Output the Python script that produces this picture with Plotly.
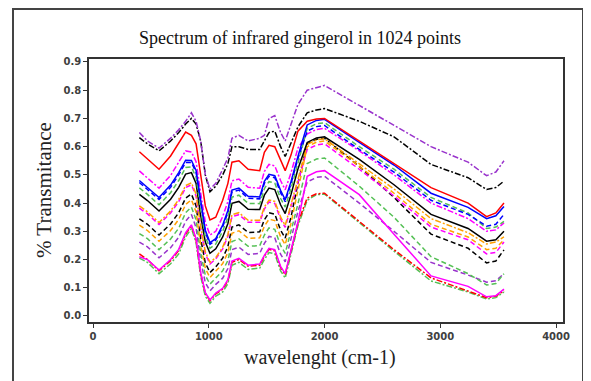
import plotly.graph_objects as go

# wavelength grid (cm-1) at which values were read
wavelength = [400, 470, 570, 670, 740, 800, 850, 890, 930, 970, 1010, 1060, 1120, 1165,
              1200, 1260, 1340, 1440, 1480, 1520, 1570, 1620, 1660, 1710, 1770, 1850,
              1930, 2000, 2300, 2600, 2920, 3240, 3400, 3480, 3550]

purple_dashdot = [0.65, 0.62, 0.595, 0.63, 0.66, 0.69, 0.72, 0.69, 0.62, 0.50, 0.45, 0.47, 0.52, 0.56,
                  0.63, 0.64, 0.62, 0.63, 0.64, 0.70, 0.71, 0.65, 0.62, 0.68, 0.75, 0.80,
                  0.81, 0.817, 0.746, 0.676, 0.60, 0.545, 0.497, 0.51, 0.55]
black_dashdot = [0.632, 0.61, 0.585, 0.62, 0.65, 0.68, 0.70, 0.68, 0.62, 0.50, 0.44, 0.46, 0.50, 0.54,
                 0.60, 0.60, 0.59, 0.59, 0.62, 0.65, 0.655, 0.60, 0.565, 0.61, 0.67, 0.72,
                 0.73, 0.735, 0.69, 0.635, 0.537, 0.49, 0.448, 0.455, 0.478]
red_solid = [0.582, 0.555, 0.52, 0.567, 0.614, 0.652, 0.64, 0.61, 0.50, 0.39, 0.34, 0.35, 0.41, 0.47,
             0.545, 0.55, 0.52, 0.515, 0.58, 0.605, 0.60, 0.55, 0.515, 0.57, 0.655, 0.69,
             0.698, 0.70, 0.62, 0.54, 0.455, 0.40, 0.352, 0.365, 0.40]
blue_solid = [0.48, 0.456, 0.42, 0.464, 0.508, 0.552, 0.551, 0.516, 0.403, 0.304, 0.26, 0.274, 0.322, 0.374,
              0.446, 0.453, 0.424, 0.422, 0.477, 0.502, 0.497, 0.445, 0.412, 0.476, 0.565, 0.677,
              0.693, 0.697, 0.615, 0.535, 0.435, 0.385, 0.345, 0.355, 0.388]
green_dash = [0.454, 0.431, 0.394, 0.437, 0.48, 0.526, 0.528, 0.491, 0.378, 0.281, 0.24, 0.255, 0.30, 0.349,
              0.421, 0.428, 0.399, 0.398, 0.451, 0.476, 0.471, 0.417, 0.386, 0.451, 0.541, 0.665,
              0.681, 0.685, 0.60, 0.52, 0.42, 0.365, 0.31, 0.315, 0.335]
blue_dash = [0.473, 0.449, 0.413, 0.456, 0.50, 0.544, 0.544, 0.509, 0.396, 0.297, 0.254, 0.269, 0.316, 0.367,
             0.439, 0.446, 0.417, 0.415, 0.47, 0.495, 0.49, 0.437, 0.405, 0.469, 0.558, 0.655,
             0.671, 0.675, 0.59, 0.51, 0.41, 0.36, 0.318, 0.325, 0.36]
magenta_dashdot = [0.514, 0.489, 0.453, 0.498, 0.543, 0.585, 0.581, 0.547, 0.435, 0.332, 0.287, 0.30, 0.352, 0.406,
                   0.479, 0.485, 0.456, 0.453, 0.512, 0.537, 0.532, 0.48, 0.447, 0.507, 0.595, 0.645,
                   0.661, 0.665, 0.585, 0.50, 0.40, 0.345, 0.30, 0.305, 0.33]
black_solid = [0.431, 0.409, 0.372, 0.414, 0.456, 0.503, 0.508, 0.47, 0.356, 0.262, 0.222, 0.238, 0.28, 0.328,
               0.399, 0.406, 0.378, 0.377, 0.428, 0.453, 0.448, 0.394, 0.363, 0.43, 0.521, 0.615,
               0.631, 0.635, 0.555, 0.465, 0.36, 0.31, 0.265, 0.27, 0.30]
orange_dashdot = [0.39, 0.369, 0.331, 0.372, 0.413, 0.462, 0.472, 0.432, 0.316, 0.227, 0.19, 0.207, 0.244, 0.289,
                  0.359, 0.366, 0.339, 0.339, 0.386, 0.411, 0.406, 0.351, 0.321, 0.392, 0.484, 0.608,
                  0.624, 0.628, 0.54, 0.45, 0.345, 0.295, 0.255, 0.262, 0.28]
orange_dash = [0.322, 0.303, 0.265, 0.303, 0.342, 0.395, 0.412, 0.369, 0.252, 0.169, 0.136, 0.157, 0.186, 0.225,
               0.293, 0.302, 0.275, 0.277, 0.318, 0.343, 0.338, 0.281, 0.253, 0.329, 0.45, 0.60,
               0.616, 0.62, 0.53, 0.435, 0.325, 0.28, 0.235, 0.24, 0.27]
magenta_dash = [0.382, 0.362, 0.324, 0.365, 0.405, 0.455, 0.465, 0.425, 0.309, 0.22, 0.184, 0.202, 0.238, 0.282,
                0.352, 0.359, 0.332, 0.332, 0.379, 0.404, 0.399, 0.343, 0.314, 0.385, 0.477, 0.59,
                0.606, 0.61, 0.52, 0.425, 0.315, 0.27, 0.22, 0.225, 0.262]
black_dash = [0.344, 0.325, 0.287, 0.326, 0.366, 0.418, 0.432, 0.39, 0.273, 0.188, 0.154, 0.174, 0.205, 0.246,
              0.315, 0.323, 0.296, 0.298, 0.341, 0.366, 0.361, 0.304, 0.276, 0.35, 0.47, 0.61,
              0.626, 0.63, 0.53, 0.42, 0.29, 0.24, 0.188, 0.195, 0.234]
green_dash_low = [0.292, 0.274, 0.235, 0.273, 0.311, 0.366, 0.386, 0.341, 0.223, 0.144, 0.113, 0.134, 0.16, 0.197,
                  0.264, 0.273, 0.247, 0.249, 0.287, 0.312, 0.307, 0.25, 0.222, 0.301, 0.397, 0.54,
                  0.556, 0.56, 0.46, 0.35, 0.21, 0.15, 0.11, 0.115, 0.15]
magenta_solid = [0.21, 0.20, 0.163, 0.20, 0.236, 0.295, 0.323, 0.274, 0.154, 0.083, 0.057, 0.081, 0.098, 0.129,
                 0.195, 0.204, 0.18, 0.184, 0.215, 0.24, 0.235, 0.176, 0.15, 0.234, 0.333, 0.495,
                 0.511, 0.515, 0.43, 0.29, 0.142, 0.105, 0.068, 0.072, 0.095]
purple_dash = [0.262, 0.245, 0.206, 0.242, 0.279, 0.336, 0.36, 0.313, 0.194, 0.118, 0.089, 0.112, 0.134, 0.168,
               0.235, 0.244, 0.218, 0.222, 0.257, 0.282, 0.277, 0.219, 0.192, 0.273, 0.37, 0.475,
               0.491, 0.495, 0.40, 0.30, 0.19, 0.145, 0.12, 0.125, 0.15]
red_dashdot = [0.22, 0.20, 0.16, 0.196, 0.232, 0.29, 0.32, 0.27, 0.15, 0.08, 0.054, 0.078, 0.095, 0.125,
               0.19, 0.20, 0.176, 0.18, 0.212, 0.236, 0.231, 0.172, 0.146, 0.23, 0.33, 0.418,
               0.433, 0.435, 0.335, 0.235, 0.135, 0.09, 0.065, 0.07, 0.09]
green_dashdot = [0.205, 0.19, 0.15, 0.185, 0.22, 0.28, 0.31, 0.26, 0.14, 0.07, 0.045, 0.07, 0.085, 0.115,
                 0.18, 0.19, 0.165, 0.17, 0.20, 0.225, 0.22, 0.16, 0.135, 0.22, 0.32, 0.41,
                 0.43, 0.432, 0.33, 0.23, 0.124, 0.085, 0.06, 0.065, 0.085]

x_ticks = [0, 1000, 2000, 3000, 4000]
y_ticks = [0.0, 0.1, 0.2, 0.3, 0.4, 0.5, 0.6, 0.7, 0.8, 0.9]
y_tick_text = ["0.0", "0.1", "0.2", "0.3", "0.4", "0.5", "0.6", "0.7", "0.8", "0.9"]

PURPLE = "#9933CC"
GREEN = "#55C055"
ORANGE = "#FFA000"
DASH = "5px,3px"
DASHDOT = "6px,2px,2px,2px"

series = [
    (green_dashdot, GREEN, DASHDOT),
    (red_dashdot, "#FF0000", DASHDOT),
    (purple_dash, PURPLE, DASH),
    (magenta_solid, "#FF00FF", "solid"),
    (green_dash_low, GREEN, DASH),
    (black_dash, "#000000", DASH),
    (magenta_dash, "#FF00FF", DASH),
    (orange_dash, ORANGE, DASH),
    (orange_dashdot, ORANGE, DASHDOT),
    (black_solid, "#000000", "solid"),
    (magenta_dashdot, "#FF00FF", DASHDOT),
    (green_dash, GREEN, DASH),
    (blue_dash, "#0000FF", DASH),
    (blue_solid, "#0000FF", "solid"),
    (red_solid, "#FF0000", "solid"),
    (black_dashdot, "#000000", DASHDOT),
    (purple_dashdot, PURPLE, DASHDOT),
]

fig = go.Figure()
for vals, col, dash in series:
    fig.add_trace(go.Scatter(x=wavelength, y=vals, mode="lines",
                             line=dict(color=col, width=1.5, dash=dash),
                             showlegend=False, hoverinfo="skip"))

# the page body adds an 8px offset; figure coordinates are page coordinates minus 8
OFF = 8
W, H = 591 - OFF, 381 - OFF
L, R, T, B = 89 - OFF, 28, 59 - OFF, 59
pw, ph = W - L - R, H - T - B

def px(x):
    return (x - OFF - L) / pw

def py(y):
    return (H - B - (y - OFF)) / ph

tick_font = dict(family="DejaVu Sans", size=10, color="#404040", weight="bold")

fig.update_layout(
    width=W, height=H,
    margin=dict(l=L, r=R, t=T, b=B, pad=0),
    paper_bgcolor="white", plot_bgcolor="white",
    showlegend=False,
    xaxis=dict(range=[-35, 4060], tickvals=x_ticks, ticks="outside", ticklen=4,
               tickcolor="#333333", showline=True, linecolor="#333333", linewidth=1.5,
               mirror=True, showgrid=False, zeroline=False, tickfont=tick_font),
    yaxis=dict(range=[-0.0213, 0.9106], tickvals=y_ticks, ticktext=y_tick_text,
               ticks="outside", ticklen=4, tickcolor="#333333", showline=True,
               linecolor="#333333", linewidth=1.5, mirror=True, showgrid=False,
               zeroline=False, tickfont=tick_font),
    shapes=[dict(type="rect", xref="paper", yref="paper",
                 x0=px(13), x1=px(583), y0=py(395), y1=py(9),
                 line=dict(color="#444444", width=2), fillcolor="rgba(0,0,0,0)")],
    annotations=[
        dict(text="Spectrum of infrared gingerol in 1024 points", xref="paper", yref="paper",
             x=px(300), y=py(38), showarrow=False, xanchor="center", yanchor="middle",
             font=dict(family="Liberation Serif", size=18, color="#111111")),
        dict(text="% Transmitance", xref="paper", yref="paper", textangle=-90,
             x=px(44), y=py(190), showarrow=False, xanchor="center", yanchor="middle",
             font=dict(family="Liberation Serif", size=21, color="#222222")),
        dict(text="wavelenght (cm-1)", xref="paper", yref="paper",
             x=px(320), y=py(357), showarrow=False, xanchor="center", yanchor="middle",
             font=dict(family="Liberation Serif", size=20, color="#222222")),
    ],
)

fig.write_html("out.html")
